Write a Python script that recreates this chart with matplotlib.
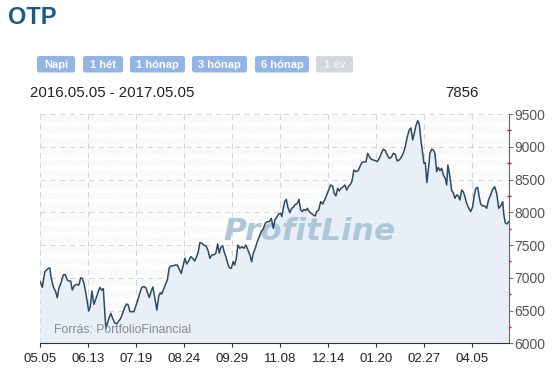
import numpy as np
import matplotlib.pyplot as plt
from matplotlib.patches import FancyBboxPatch

plt.rcParams['font.family'] = ['Liberation Sans', 'DejaVu Sans']
plt.rcParams['lines.scale_dashes'] = False

# OTP árfolyam, 2016.05.05 - 2017.05.05 (kereskedési napok sorszáma szerint)
napok = [0, 1, 2.3, 4, 4.8, 5.3, 6.5, 7.7, 8.5, 9.3, 10.3, 11.5, 12.5, 13.5, 14.5, 15.2,
         16, 17, 18.2, 19.3, 20.2, 21, 21.8, 22.8, 24.2, 25, 25.8, 26.8, 27.8, 29, 29.8,
         30.7, 31.5, 32.8, 33.5, 34.5, 35.3, 36.2, 37.2, 38.2, 39.2, 40.2, 41.2, 42.3,
         43.2, 44, 44.8, 45.8, 46.8, 47.8, 48.8, 49.8, 50.8, 51.8, 52.8, 53.7, 54.5, 55.5,
         56.3, 57.3, 58.3, 59.2, 60, 60.7, 61.5, 62.5, 63.5, 64.5, 65.3, 66.5, 67.5, 68.5,
         69.5, 70.5, 71.5, 72.3, 73.2, 74.2, 75.2, 76.2, 77.2, 78.2, 79, 79.8, 80.8, 81.8,
         82.8, 83.8, 84.8, 85.8, 86.8, 87.8, 88.7, 89.5, 90.3, 91.2, 92, 92.8, 93.7, 94.5,
         95.5, 96.5, 97.2, 98, 98.8, 99.8, 100.8, 101.8, 102.8, 103.8, 104.8, 105.7, 106.5,
         107.5, 108.5, 109.5, 110.5, 111.5, 112.5, 113.5, 114.5, 115.5, 116.5, 117.3, 118.2,
         119.2, 120.2, 120.8, 121.5, 122.2, 123, 123.8, 124.8, 125.7, 126.5, 127.3, 128.5,
         129.3, 130.2, 131, 131.8, 132.7, 133.5, 134.5, 135.5, 136.5, 137.5, 138.2, 139.2,
         140.2, 141.2, 142.2, 143.2, 144.2, 145.2, 146.2, 147, 147.8, 148.7, 149.5, 150.3,
         151.2, 152.3, 153.2, 154, 154.8, 155.8, 156.8, 157.8, 159, 159.8, 160.8, 161.8,
         162.8, 163.7, 164.5, 165.5, 166.5, 167.5, 168.5, 169.5, 170.5, 171.5, 172.5, 173.5,
         174.5, 175.5, 176.5, 177.5, 178.5, 179.5, 180.5, 181.5, 182.5, 183.5, 184.5, 185.3,
         186.2, 187, 187.8, 188.7, 189.5, 190.3, 191.2, 191.8, 192.5, 193.3, 194.2, 194.8,
         195.7, 196.5, 197.3, 198.2, 199, 199.8, 200.7, 201.5, 202.5, 203.2, 203.8, 204.8,
         205.7, 206.5, 207.3, 208.2, 209, 209.8, 210.7, 211.5, 212.3, 213.2, 214, 215.2,
         216.2, 217, 217.8, 218.7, 219.3, 220.2, 221.2, 222.2, 223.2, 224.2, 225.2, 226.2,
         227.2, 228.2, 229.2, 230.2, 231.2, 231.8, 232.5, 233.3, 234.2]
arak = [6940, 6855, 7093, 7145, 7150, 7017, 6864, 6788, 6696, 6840, 6916, 7043, 7050, 6966,
        6950, 6950, 6814, 6880, 6900, 6890, 7000, 6990, 6920, 6763, 6493, 6560, 6798, 6595,
        6680, 6790, 6855, 6810, 6835, 6223, 6300, 6397, 6458, 6380, 6315, 6295, 6340, 6380,
        6458, 6559, 6600, 6585, 6483, 6483, 6483, 6570, 6662, 6773, 6855, 6865, 6850, 6763,
        6700, 6800, 6860, 6680, 6508, 6712, 6773, 6750, 6814, 6890, 6966, 7154, 7180, 7184,
        7195, 7195, 7130, 7067, 7195, 7298, 7211, 7256, 7323, 7298, 7256, 7323, 7400, 7537,
        7527, 7496, 7491, 7425, 7298, 7350, 7350, 7375, 7517, 7375, 7466, 7491, 7389, 7323,
        7222, 7155, 7145, 7246, 7196, 7298, 7500, 7450, 7476, 7450, 7500, 7425, 7350, 7246,
        7375, 7450, 7552, 7628, 7704, 7745, 7832, 7857, 7857, 7908, 7755, 7882, 7923, 7974,
        7984, 7933, 8061, 8162, 8198, 8076, 7994, 8061, 8076, 8112, 8137, 8198, 8035, 8010,
        8045, 8025, 8061, 8010, 7984, 7959, 7944, 8010, 8035, 8162, 8127, 8188, 8264, 8340,
        8417, 8400, 8289, 8249, 8366, 8325, 8366, 8380, 8417, 8340, 8391, 8417, 8468, 8646,
        8620, 8636, 8697, 8758, 8768, 8768, 8900, 8849, 8809, 8799, 8789, 8773, 8824, 8900,
        8962, 8941, 8875, 8824, 8839, 8900, 8885, 8783, 8799, 8839, 8900, 9002, 9154, 9256,
        9287, 9104, 9206, 9318, 9399, 9348, 9104, 8900, 8748, 8758, 8453, 8697, 8900, 8962,
        8951, 8900, 8620, 8687, 8636, 8672, 8570, 8519, 8417, 8722, 8544, 8330, 8300, 8213,
        8264, 8254, 8188, 8340, 8315, 8239, 8137, 8076, 8010, 8086, 8264, 8366, 8380, 8264,
        8127, 8096, 8096, 8061, 8198, 8264, 8351, 8391, 8289, 8061, 8096, 8162, 7959, 7841,
        7821, 7856]

tick_napok = [0, 24, 48, 72, 96, 120, 144, 168, 192, 216]
tick_cimkek = ['05.05', '06.13', '07.19', '08.24', '09.29', '11.08', '12.14', '01.20', '02.27', '04.05']
y_tickek = [6000, 6500, 7000, 7500, 8000, 8500, 9000, 9500]

gombok = ['Napi', '1 hét', '1 hónap', '3 hónap', '6 hónap', '1 év']
gomb_x = [37, 83, 130, 192, 255, 316]
gomb_w = [38, 40, 55, 55, 54, 37]

fig = plt.figure(figsize=(5.54, 3.73), dpi=100)

# háttér réteg pixel koordinátákkal
bg = fig.add_axes([0, 0, 1, 1])
bg.set_xlim(0, 554)
bg.set_ylim(373, 0)
bg.axis('off')

bg.text(8, 18, 'OTP', fontsize=17, fontweight='bold', color='#185a8a', va='center', ha='left')

for i, g in enumerate(gombok):
    aktiv = g != '1 év'
    szin = '#92b5e6' if aktiv else '#d5d7da'
    bg.add_patch(FancyBboxPatch((gomb_x[i], 56), gomb_w[i], 16.5,
                                boxstyle='round,pad=0,rounding_size=2.5',
                                fc=szin, ec='none'))
    bg.text(gomb_x[i] + gomb_w[i] / 2, 64.5, g, fontsize=8, fontweight='bold',
            color='white' if aktiv else '#f1f1f1', ha='center', va='center')

bg.text(30, 93, '2016.05.05 - 2017.05.05', fontsize=10.8, color='#222222', va='center')
bg.text(479, 93, '7856', fontsize=10.8, color='#222222', va='center', ha='right')

ax = fig.add_axes([0.0727, 0.0796, 0.8455, 0.6147])
ax.set_facecolor('none')

# halvány csíkos háttér
for alap in y_tickek[:-1]:
    for d in (83, 250, 417):
        ax.axhline(alap + d, color='#e6e9ee', lw=4.5, dashes=(0.75, 0.75), zorder=0.5, alpha=0.45)

ax.fill_between(napok, arak, 6000, color='#e8eff6', zorder=1, lw=0)
ax.text(309, 232, 'ProfitLine', transform=bg.transData, fontsize=22.5, fontweight='bold',
        style='italic', family='DejaVu Sans', color='#acc7d8', ha='center', va='center',
        zorder=2)
ax.plot(napok, arak, color='#2e4a62', lw=1.1, zorder=3)
ax.text(54, 330, 'Forrás: PortfolioFinancial', transform=bg.transData, fontsize=8.8,
        color='#8a8a8a', va='center', zorder=4)

ax.set_xlim(0, 234.2)
ax.set_ylim(6000, 9500)
ax.set_xticks(tick_napok)
ax.set_xticklabels(tick_cimkek)
ax.yaxis.tick_right()
ax.set_yticks(y_tickek)
ax.set_yticks([v + 250 for v in y_tickek[:-1]], minor=True)

ax.grid(True, which='major', color='#d6d6d6', ls=(0, (4, 3)), lw=0.8, zorder=0.6)
ax.set_axisbelow(True)

for s in ['top', 'left']:
    ax.spines[s].set_visible(False)
ax.spines['bottom'].set_color('#333333')
ax.spines['right'].set_color('#666666')

ax.tick_params(axis='x', length=3, color='#333333', labelsize=9.5, labelcolor='#222222', pad=4)
ax.tick_params(axis='y', which='major', length=3, color='#777777', labelsize=10,
               labelcolor='#555555', pad=1)
ax.tick_params(axis='y', which='minor', length=2.5, color='red', direction='inout', width=1)

plt.savefig('out.png', dpi=100)
